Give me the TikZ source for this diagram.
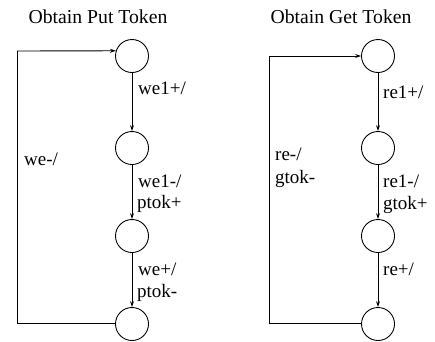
\documentclass[tikz,border=0pt]{standalone}
\usepackage{fontspec}
\setmainfont{Liberation Serif}
\usetikzlibrary{arrows.meta}
\begin{document}
\begin{tikzpicture}[x=1pt,y=-1pt,
  state/.style={draw,circle,minimum size=33pt,inner sep=0pt,line width=0.9pt},
  edge/.style={line width=0.9pt,-{Stealth[length=6pt,width=4pt,inset=2pt]}},
  plain/.style={line width=0.9pt},
  lbl/.style={anchor=base west,inner sep=0pt,font=\fontsize{19}{21}\selectfont},
  ttl/.style={anchor=base,inner sep=0pt,font=\fontsize{19.7}{22}\selectfont}]
\useasboundingbox (0,0) rectangle (435,341);

% Obtain Put Token
\node[ttl] (t1) at (98,23) {Obtain Put Token};
\node[state] (p1) at (132,56) {};
\node[state] (p2) at (132,148) {};
\node[state] (p3) at (132,236) {};
\node[state] (p4) at (132,324) {};
\coordinate (pa) at (17,51);
\coordinate (pb) at (17,323);
\draw[edge] (p1) -- (p2);
\draw[edge] (p2) -- (p3);
\draw[edge] (p3) -- (p4);
\draw[plain] (p4.west |- pb) -- (pb) -- (pa);
\draw[edge] (pa) -- (p1.162);
\node[lbl] (l1) at (138,94) {we1+/};
\node[lbl] (l2) at (24,165) {we-/};
\node[lbl] (l3) at (138,187) {we1-/};
\node[lbl] (l4) at (137,208) {ptok+};
\node[lbl] (l5) at (138,275) {we+/};
\node[lbl] (l6) at (137,297) {ptok-};

% Obtain Get Token
\node[ttl] (t2) at (341,23) {Obtain Get Token};
\node[state] (g1) at (378,56) {};
\node[state] (g2) at (378,148) {};
\node[state] (g3) at (378,236) {};
\node[state] (g4) at (378,324) {};
\coordinate (ga) at (269,56);
\coordinate (gb) at (269,323);
\draw[edge] (g1) -- (g2);
\draw[edge] (g2) -- (g3);
\draw[edge] (g3) -- (g4);
\draw[plain] (g4.west |- gb) -- (gb) -- (ga);
\draw[edge] (ga) -- (g1.west);
\node[lbl] (m1) at (383,98) {re1+/};
\node[lbl] (m2) at (275,160) {re-/};
\node[lbl] (m3) at (275,183) {gtok-};
\node[lbl] (m4) at (383,187) {re1-/};
\node[lbl] (m5) at (383,209) {gtok+};
\node[lbl] (m6) at (383,275) {re+/};
\end{tikzpicture}
\end{document}
